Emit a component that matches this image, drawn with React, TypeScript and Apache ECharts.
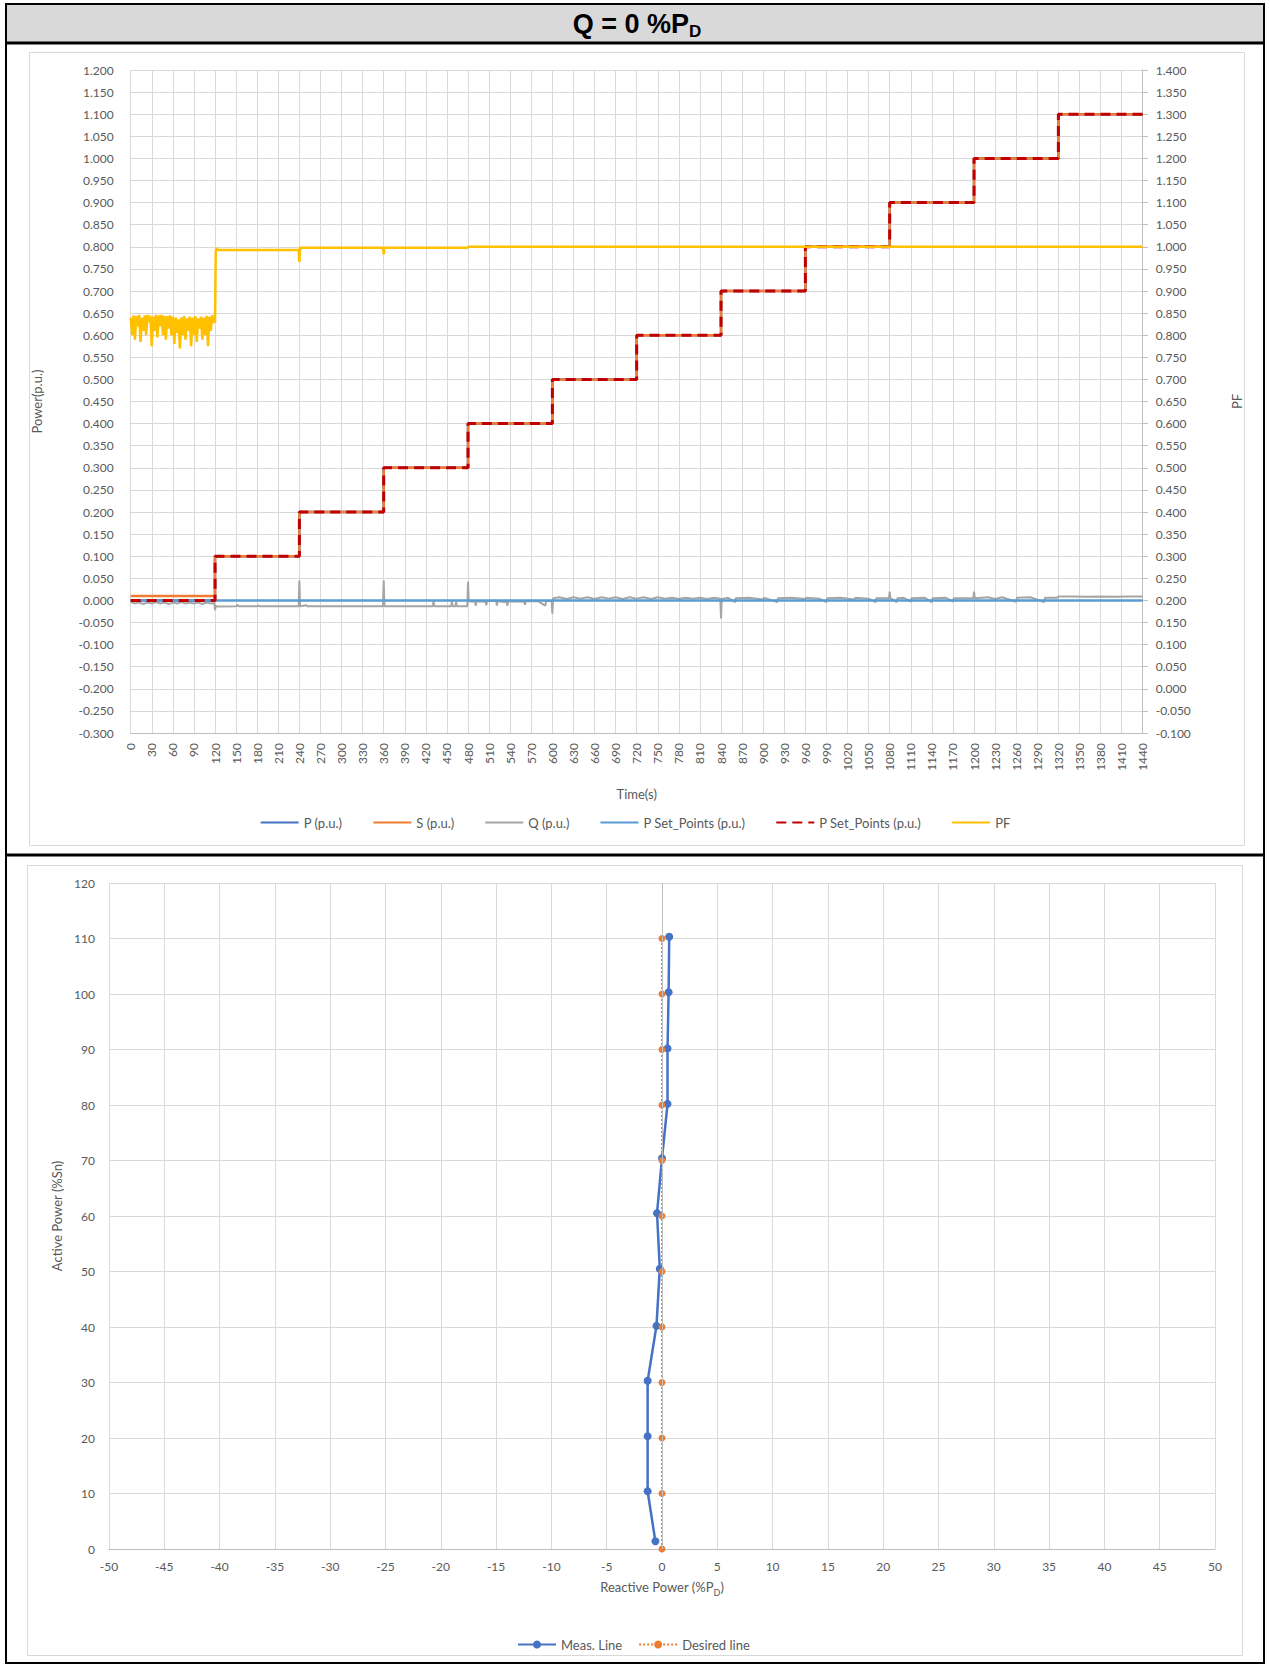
import React, { useEffect, useRef } from "react";
import * as echarts from "echarts";

// ---------- Chart 1 data (time series) ----------
const stepTimes = [0, 120, 240, 360, 480, 600, 720, 840, 960, 1080, 1200, 1320, 1440];
const pMeasured = [0, 0.1, 0.2, 0.3, 0.4, 0.5, 0.6, 0.7, 0.8, 0.9, 1.0, 1.1, 1.1];
const sMeasured = [0.01, 0.1, 0.2, 0.3, 0.4, 0.5, 0.6, 0.7, 0.8, 0.9, 1.0, 1.1, 1.1];
const pSetBase = [0, 0, 0, 0, 0, 0, 0, 0, 0, 0, 0, 0, 0];
const pSetpoints = [0, 0.1, 0.2, 0.3, 0.4, 0.5, 0.6, 0.7, 0.8, 0.9, 1.0, 1.1, 1.1];

const qPoints: [number, number][] = [
  [0, -0.004], [6, -0.007], [12, -0.005], [18, -0.008], [24, -0.005], [30, -0.007], [36, -0.004],
  [42, -0.007], [48, -0.005], [54, -0.008], [60, -0.005], [66, -0.007], [72, -0.004], [78, -0.007],
  [84, -0.005], [90, -0.007], [96, -0.005], [102, -0.008], [108, -0.005], [114, -0.007], [119, -0.006],
  [120, -0.022], [121, -0.012], [122, -0.014], [150, -0.013], [152, -0.01], [153, -0.013], [180, -0.013],
  [182, -0.011], [183, -0.013], [210, -0.013], [239, -0.013], [240, 0.045], [241, -0.013], [250, -0.011],
  [251, -0.013], [359, -0.013], [360, 0.045], [361, -0.013], [430, -0.013], [431, -0.001], [432, -0.013],
  [456, -0.013], [457, -0.002], [458, -0.013], [462, -0.013], [463, -0.003], [464, -0.013], [479, -0.013],
  [480, 0.042], [481, -0.002], [490, -0.003], [491, -0.012], [492, -0.002], [505, -0.003], [506, -0.011],
  [507, -0.002], [520, -0.001], [521, -0.012], [522, -0.002], [535, -0.004], [536, -0.012], [537, -0.002],
  [560, -0.003], [561, -0.01], [562, -0.002], [580, -0.002], [590, -0.012], [591, -0.002], [599, -0.001],
  [600, -0.03], [601, 0.005], [610, 0.007], [620, 0.003], [630, 0.007], [640, 0.004], [650, 0.007],
  [660, 0.003], [670, 0.007], [680, 0.004], [690, 0.007], [700, 0.003], [710, 0.007], [720, 0.004],
  [730, 0.007], [740, 0.003], [750, 0.007], [760, 0.004], [770, 0.006], [780, 0.003], [790, 0.006],
  [800, 0.004], [810, 0.006], [820, 0.003], [830, 0.006], [839, 0.004], [840, -0.041], [841, 0.003],
  [850, 0.006], [860, -0.004], [861, 0.005], [880, 0.006], [900, 0.002], [901, 0.006], [920, -0.004],
  [921, 0.005], [940, 0.006], [960, 0.003], [961, 0.006], [980, 0.004], [990, -0.004], [991, 0.005],
  [1010, 0.006], [1030, 0.002], [1031, 0.006], [1050, 0.004], [1060, -0.004], [1061, 0.005], [1079, 0.005],
  [1080, 0.02], [1081, 0.005], [1090, -0.004], [1091, 0.005], [1100, 0.006], [1110, -0.003], [1111, 0.005],
  [1130, 0.006], [1140, -0.004], [1141, 0.005], [1160, 0.006], [1170, -0.003], [1171, 0.005], [1199, 0.005],
  [1200, 0.02], [1201, 0.005], [1220, 0.007], [1230, 0.003], [1240, 0.007], [1260, -0.003], [1261, 0.006],
  [1280, 0.007], [1300, -0.004], [1301, 0.006], [1319, 0.006], [1320, 0.009], [1340, 0.009], [1360, 0.008],
  [1380, 0.009], [1400, 0.008], [1420, 0.009], [1440, 0.009],
];

// PF readings during the first 120 s (every 2 s), then the steady part
const pfNoise = [
  0.84, 0.8, 0.845, 0.79, 0.843, 0.82, 0.846, 0.785, 0.84, 0.81, 0.845, 0.8, 0.846, 0.83, 0.844,
  0.775, 0.842, 0.81, 0.846, 0.795, 0.845, 0.82, 0.846, 0.8, 0.844, 0.79, 0.843, 0.815, 0.845, 0.8,
  0.842, 0.78, 0.84, 0.805, 0.836, 0.77, 0.84, 0.8, 0.843, 0.79, 0.838, 0.81, 0.842, 0.775, 0.84,
  0.8, 0.843, 0.785, 0.838, 0.815, 0.842, 0.79, 0.84, 0.8, 0.844, 0.775, 0.842, 0.81, 0.845, 0.83,
];
const pfSteady: [number, number][] = [
  [120, 0.83], [121, 0.99], [122, 0.997], [124, 0.993], [239, 0.993], [240, 0.966], [241, 0.998],
  [359, 0.998], [360, 0.983], [361, 0.998], [479, 0.998], [480, 1.0], [1440, 1.0],
];

// ---------- Chart 2 data (P-Q capability) ----------
const reactiveMeas = [-0.6, -1.3, -1.3, -1.3, -0.5, -0.2, -0.45, 0, 0.5, 0.5, 0.6, 0.65];
const activeMeas = [1.4, 10.4, 20.3, 30.3, 40.2, 50.5, 60.5, 70.4, 80.2, 90.2, 100.3, 110.3];
const reactiveDesired = [0, 0, 0, 0, 0, 0, 0, 0, 0, 0, 0, 0];
const activeDesired = [0, 10, 20, 30, 40, 50, 60, 70, 80, 90, 100, 110];

const FONT = "Lato, 'Open Sans', sans-serif";
const TXT = "#595959";
const GRID = "#d9d9d9";

function zip(a: number[], b: number[]) {
  return a.map((v, i) => [v, b[i]]);
}

export default function App() {
  const ref = useRef<HTMLDivElement>(null);
  useEffect(() => {
    if (!ref.current) return;
    const chart = echarts.init(ref.current, undefined, { renderer: "svg" });
    const pfData = [...pfNoise.map((v, i) => [i * 2, v]), ...pfSteady];
    const stripName = (n: string) => n.replace(/#\d$/, "");
    const subRich = {
      main: { fontFamily: FONT, fontSize: 13, color: TXT, lineHeight: 16, verticalAlign: "top" },
      sub: { fontFamily: FONT, fontSize: 9, color: TXT, lineHeight: 10, verticalAlign: "top", padding: [8, 0, 0, 0] },
    };
    const option: any = {
      animation: false,
      textStyle: { fontFamily: FONT },
      graphic: [
        { type: "rect", shape: { x: 7, y: 5, width: 1256, height: 37 }, style: { fill: "#d9d9d9" }, silent: true },
        { type: "rect", shape: { x: 6, y: 4, width: 1258, height: 1659 }, style: { fill: "none", stroke: "#000", lineWidth: 2 }, silent: true },
        { type: "line", shape: { x1: 6, y1: 43, x2: 1264, y2: 43 }, style: { stroke: "#000", lineWidth: 3 }, silent: true },
        { type: "line", shape: { x1: 6, y1: 855, x2: 1264, y2: 855 }, style: { stroke: "#000", lineWidth: 3 }, silent: true },
        { type: "rect", shape: { x: 29.5, y: 52.5, width: 1215, height: 793 }, style: { fill: "none", stroke: GRID, lineWidth: 1 }, silent: true },
        { type: "rect", shape: { x: 27.5, y: 865.5, width: 1215, height: 790 }, style: { fill: "none", stroke: GRID, lineWidth: 1 }, silent: true },
        {
          type: "text",
          x: 637,
          y: 24,
          style: {
            text: "{m|Q = 0 %P}{s|D}",
            align: "center",
            verticalAlign: "middle",
            rich: {
              m: { fontFamily: "'Liberation Sans', Arial", fontWeight: "bold", fontSize: 27, color: "#000", lineHeight: 28, verticalAlign: "top" },
              s: { fontFamily: "'Liberation Sans', Arial", fontWeight: "bold", fontSize: 17, color: "#000", lineHeight: 18, verticalAlign: "top", padding: [13, 0, 0, 0] },
            },
          },
          silent: true,
        },
      ],
      grid: [
        { left: 130.7, top: 70, width: 1012, height: 663 },
        { left: 109, top: 883, width: 1106, height: 666 },
      ],
      legend: [
        {
          top: 811,
          left: "center",
          itemWidth: 38,
          itemHeight: 10,
          itemGap: 30,
          itemStyle: { opacity: 0 },
          textStyle: { color: TXT, fontSize: 13, fontFamily: FONT },
          formatter: stripName,
          data: ["P (p.u.)", "S (p.u.)", "Q (p.u.)", "P Set_Points (p.u.)#1", "P Set_Points (p.u.)#2", "PF"],
        },
        {
          top: 1633,
          left: 512,
          itemWidth: 38,
          itemHeight: 10,
          itemGap: 16,
          textStyle: { color: TXT, fontSize: 13, fontFamily: FONT },
          data: ["Meas. Line", "Desired line"],
        },
      ],
      xAxis: [
        {
          type: "value",
          gridIndex: 0,
          min: 0,
          max: 1440,
          interval: 30,
          name: "Time(s)",
          nameLocation: "middle",
          nameGap: 54,
          nameTextStyle: { color: TXT, fontSize: 13, fontFamily: FONT },
          axisLine: { show: true, onZero: false, lineStyle: { color: "#bfbfbf" } },
          axisTick: { show: false },
          axisLabel: { rotate: 90, color: TXT, fontSize: 12, margin: 10, fontFamily: FONT, formatter: (v: number) => String(v) },
          splitLine: { show: true, lineStyle: { color: GRID } },
        },
        {
          type: "value",
          gridIndex: 1,
          min: -50,
          max: 50,
          interval: 5,
          name: "{main|Reactive Power (%P}{sub|D}{main|)}",
          nameLocation: "middle",
          nameGap: 31,
          nameTextStyle: { rich: subRich },
          axisLine: { show: true, onZero: false, lineStyle: { color: "#bfbfbf" } },
          axisTick: { show: false },
          axisLabel: { color: TXT, fontSize: 12, margin: 11, fontFamily: FONT },
          splitLine: { show: true, lineStyle: { color: GRID } },
        },
      ],
      yAxis: [
        {
          type: "value",
          gridIndex: 0,
          min: -0.3,
          max: 1.2,
          interval: 0.05,
          name: "Power(p.u.)",
          nameLocation: "middle",
          nameGap: 87,
          nameTextStyle: { color: TXT, fontSize: 13, fontFamily: FONT },
          axisLine: { show: false },
          axisTick: { show: false },
          axisLabel: { color: TXT, fontSize: 12, margin: 17, fontFamily: FONT, formatter: (v: number) => v.toFixed(3) },
          splitLine: { show: true, lineStyle: { color: GRID } },
        },
        {
          type: "value",
          gridIndex: 0,
          position: "right",
          min: -0.1,
          max: 1.4,
          interval: 0.05,
          name: "PF",
          nameLocation: "middle",
          nameGap: 88,
          nameTextStyle: { color: TXT, fontSize: 13, fontFamily: FONT },
          axisLine: { show: true, lineStyle: { color: "#bfbfbf" } },
          axisTick: { show: true, length: 5, lineStyle: { color: "#bfbfbf" } },
          axisLabel: { color: TXT, fontSize: 12, margin: 13, fontFamily: FONT, formatter: (v: number) => v.toFixed(3) },
          splitLine: { show: false },
        },
        {
          type: "value",
          gridIndex: 1,
          min: 0,
          max: 120,
          interval: 10,
          name: "Active Power (%Sn)",
          nameLocation: "middle",
          nameGap: 44,
          nameTextStyle: { color: TXT, fontSize: 13, fontFamily: FONT },
          axisLine: { show: false },
          axisTick: { show: false },
          axisLabel: { color: TXT, fontSize: 12, margin: 14, fontFamily: FONT },
          splitLine: { show: true, lineStyle: { color: GRID } },
        },
      ],
      series: [
        {
          name: "P (p.u.)", type: "line", xAxisIndex: 0, yAxisIndex: 0, step: "end", showSymbol: false, symbol: "none",
          data: zip(stepTimes, pMeasured), lineStyle: { color: "#4472c4", width: 2.5 }, itemStyle: { color: "#4472c4" },
        },
        {
          name: "S (p.u.)", type: "line", xAxisIndex: 0, yAxisIndex: 0, step: "end", showSymbol: false, symbol: "none",
          data: zip(stepTimes, sMeasured), lineStyle: { color: "#ed7d31", width: 2.5 }, itemStyle: { color: "#ed7d31" },
        },
        {
          name: "Q (p.u.)", type: "line", xAxisIndex: 0, yAxisIndex: 0, showSymbol: false, symbol: "none",
          data: qPoints, lineStyle: { color: "#a5a5a5", width: 2 }, itemStyle: { color: "#a5a5a5" },
        },
        {
          name: "P Set_Points (p.u.)#1", type: "line", xAxisIndex: 0, yAxisIndex: 0, step: "end", showSymbol: false, symbol: "none",
          data: zip(stepTimes, pSetBase), lineStyle: { color: "#5b9bd5", width: 2.5 }, itemStyle: { color: "#5b9bd5" },
        },
        {
          name: "P Set_Points (p.u.)#2", type: "line", xAxisIndex: 0, yAxisIndex: 0, step: "end", showSymbol: false, symbol: "none",
          data: zip(stepTimes, pSetpoints), lineStyle: { color: "#c00000", width: 3, type: [10, 6] }, itemStyle: { color: "#c00000" },
        },
        {
          name: "PF", type: "line", xAxisIndex: 0, yAxisIndex: 1, showSymbol: false, symbol: "none",
          data: pfData, lineStyle: { color: "#ffc000", width: 2.5 }, itemStyle: { color: "#ffc000" },
        },
        {
          name: "Meas. Line", type: "line", xAxisIndex: 1, yAxisIndex: 2, symbol: "circle", symbolSize: 8,
          data: zip(reactiveMeas, activeMeas), lineStyle: { color: "#4472c4", width: 2.5 }, itemStyle: { color: "#4472c4" },
        },
        {
          name: "Desired line", type: "line", xAxisIndex: 1, yAxisIndex: 2, symbol: "circle", symbolSize: 7,
          data: zip(reactiveDesired, activeDesired), lineStyle: { color: "#ed7d31", width: 2, type: [2, 2] }, itemStyle: { color: "#ed7d31" },
          markLine: {
            silent: true, symbol: "none", label: { show: false },
            lineStyle: { color: "#bfbfbf", width: 1, type: "solid" },
            data: [{ xAxis: 0 }],
          },
        },
      ],
    };
    chart.setOption(option);
    return () => chart.dispose();
  }, []);
  return (
    <div style={{ position: "absolute", left: 0, top: 0, width: 1270, height: 1664, background: "#fff" }}>
      <div ref={ref} style={{ width: 1270, height: 1664 }} />
    </div>
  );
}
